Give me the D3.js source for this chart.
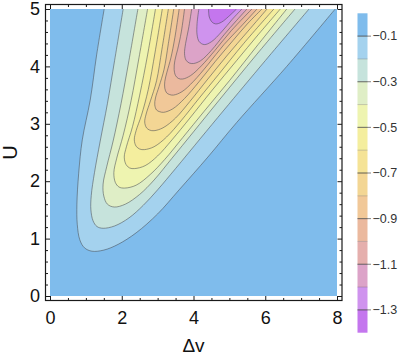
<!DOCTYPE html>
<html>
<head>
<meta charset="utf-8">
<script src="https://cdn.jsdelivr.net/npm/d3@7"></script>
<style>
  body { margin: 0; background: #fff; }
  svg text { font-family: "Liberation Sans", Arial, sans-serif; }
</style>
</head>
<body>
<div id="chart"></div>
<script>
// contour levels and the band colours between them (0 .. -1.4)
const levels = [-0.1, -0.2, -0.3, -0.4, -0.5, -0.6, -0.7, -0.8, -0.9, -1.0, -1.1, -1.2, -1.3];
const legendRange = [0, -1.4];
const bandColors = ["#7fbcec", "#a4d2ee", "#c6e3dc", "#dfeec6", "#eef4b0", "#f4ee9e", "#f5e396",
                    "#f3d694", "#f1c898", "#ebb99e", "#e5afad", "#dca3c8", "#cf93ee", "#c476ee"];
const legendTicks = [-0.1, -0.3, -0.5, -0.7, -0.9, -1.1, -1.3];
const xTicks = [0, 2, 4, 6, 8];
const yTicks = [0, 1, 2, 3, 4, 5];

// contour lines, [Δv, U], left end at U=5 round the bottom to the right end
const contour01 = [[1.51,5.0],[1.3,4.2],[1.12,3.41],[0.9,2.72],[0.8,2.14],[0.75,1.6],[0.76,1.25],[0.83,0.98],[0.96,0.84],[1.17,0.78],[1.5,0.8],[1.9,0.9],[2.4,1.1],[3.0,1.43],[3.6,1.85],[4.4,2.42],[5.2,3.02],[6.6,4.0],[7.95,5.0]];
const contour02 = [[2.04,5.0],[1.8,4.1],[1.6,3.35],[1.4,2.7],[1.24,2.15],[1.15,1.75],[1.14,1.5],[1.2,1.31],[1.31,1.21],[1.48,1.18],[1.8,1.22],[2.2,1.36],[2.6,1.58],[3.0,1.85],[3.5,2.22],[4.2,2.75],[4.85,3.24],[6.0,4.1],[7.22,5.0]];
const contour03 = [[2.45,5.0],[2.2,4.1],[1.98,3.35],[1.76,2.7],[1.58,2.25],[1.48,1.95],[1.5,1.74],[1.6,1.6],[1.79,1.55],[2.1,1.6],[2.5,1.77],[2.9,2.02],[3.4,2.4],[4.0,2.86],[4.7,3.4],[5.75,4.2],[6.83,5.0]];
const contour04 = [[2.72,5.0],[2.48,4.15],[2.26,3.4],[2.04,2.8],[1.86,2.4],[1.78,2.15],[1.82,1.98],[1.92,1.9],[2.08,1.88],[2.4,1.93],[2.8,2.12],[3.2,2.38],[3.7,2.76],[4.3,3.22],[5.0,3.75],[5.8,4.38],[6.6,5.0]];
const contour05 = [[2.94,5.0],[2.72,4.2],[2.5,3.5],[2.3,2.95],[2.13,2.6],[2.07,2.42],[2.12,2.29],[2.22,2.23],[2.36,2.22],[2.65,2.27],[3.0,2.44],[3.4,2.72],[3.9,3.1],[4.5,3.57],[5.2,4.1],[5.8,4.55],[6.42,5.0]];
const contour06 = [[3.13,5.0],[2.93,4.25],[2.74,3.6],[2.55,3.15],[2.4,2.88],[2.35,2.72],[2.4,2.61],[2.5,2.56],[2.63,2.55],[2.9,2.6],[3.25,2.77],[3.65,3.05],[4.15,3.44],[4.7,3.86],[5.4,4.4],[6.24,5.0]];
const contour07 = [[3.3,5.0],[3.12,4.3],[2.97,3.75],[2.8,3.4],[2.68,3.17],[2.64,3.03],[2.69,2.93],[2.78,2.89],[2.9,2.88],[3.15,2.93],[3.5,3.1],[3.9,3.39],[4.4,3.78],[4.95,4.2],[5.5,4.6],[6.05,5.0]];
const contour08 = [[3.45,5.0],[3.3,4.4],[3.18,3.95],[3.04,3.65],[2.94,3.45],[2.92,3.33],[2.97,3.24],[3.06,3.21],[3.17,3.2],[3.42,3.26],[3.75,3.44],[4.15,3.73],[4.6,4.08],[5.1,4.45],[5.5,4.74],[5.91,5.0]];
const contour09 = [[3.6,5.0],[3.48,4.5],[3.37,4.15],[3.26,3.9],[3.2,3.74],[3.2,3.62],[3.25,3.54],[3.33,3.51],[3.44,3.5],[3.68,3.56],[4.0,3.74],[4.4,4.03],[4.85,4.38],[5.3,4.68],[5.77,5.0]];
const contour10 = [[3.75,5.0],[3.66,4.6],[3.56,4.3],[3.48,4.1],[3.46,3.95],[3.5,3.84],[3.58,3.79],[3.7,3.78],[3.92,3.84],[4.22,4.01],[4.6,4.28],[5.05,4.62],[5.63,5.0]];
const contour11 = [[3.95,5.0],[3.86,4.65],[3.78,4.4],[3.75,4.22],[3.79,4.11],[3.88,4.06],[4.0,4.05],[4.2,4.1],[4.5,4.28],[4.85,4.55],[5.2,4.8],[5.49,5.0]];
const contour12 = [[4.15,5.0],[4.1,4.75],[4.1,4.55],[4.16,4.43],[4.3,4.38],[4.5,4.43],[4.78,4.6],[5.08,4.82],[5.35,5.0]];
const contour13 = [[4.42,5.0],[4.44,4.86],[4.52,4.77],[4.62,4.74],[4.78,4.77],[4.98,4.87],[5.2,5.0]];
const contours = [contour01, contour02, contour03, contour04, contour05, contour06, contour07,
                  contour08, contour09, contour10, contour11, contour12, contour13];

const W = 416, H = 357;
const svg = d3.select("#chart").append("svg")
    .attr("width", W)
    .attr("height", H);

const x = d3.scaleLinear().domain([0, 8]).range([50, 337]);
const y = d3.scaleLinear().domain([0, 5]).range([296, 9]);

svg.append("clipPath").attr("id", "plotclip")
  .append("rect")
    .attr("x", x(0)).attr("y", y(5))
    .attr("width", x(8) - x(0)).attr("height", y(0) - y(5));

const plot = svg.append("g").attr("clip-path", "url(#plotclip)");

// lowest band fills the whole area
plot.append("rect")
    .attr("x", x(0)).attr("y", y(5))
    .attr("width", x(8) - x(0)).attr("height", y(0) - y(5))
    .attr("fill", bandColors[0]);

const line = d3.line()
    .x(d => x(d[0]))
    .y(d => y(d[1]))
    .curve(d3.curveCatmullRom.alpha(0.5));

// each contour closes along the top edge, inner ones painted over outer ones
plot.selectAll("path.band")
  .data(contours)
  .join("path")
    .attr("class", "band")
    .attr("d", d => line(d) + "Z")
    .attr("fill", (d, i) => bandColors[i + 1]);

plot.selectAll("path.iso")
  .data(contours)
  .join("path")
    .attr("class", "iso")
    .attr("d", d => line(d))
    .attr("fill", "none")
    .attr("stroke", "rgba(70,75,80,0.6)")
    .attr("stroke-width", 0.9);

// frame
const fx0 = 45.5, fx1 = 342, fy0 = 4.5, fy1 = 300.5;
svg.append("rect")
    .attr("x", fx0).attr("y", fy0)
    .attr("width", fx1 - fx0).attr("height", fy1 - fy0)
    .attr("fill", "none")
    .attr("stroke", "#1a1a1a")
    .attr("stroke-width", 1.2);

const xMinor = d3.range(0, 8.01, 0.5).filter(v => v % 2 !== 0);
const yMinor = d3.range(0, 5.01, 0.2).map(v => +v.toFixed(1)).filter(v => v % 1 !== 0);

function frameAxis(axisFn, scale, tx, ty, major, minor, labels) {
  const gMaj = svg.append("g")
      .attr("transform", `translate(${tx},${ty})`)
      .call(axisFn(scale).tickValues(major).tickSize(-4.5).tickPadding(labels ? 11 : 0)
            .tickFormat(labels ? d3.format("d") : ""));
  const gMin = svg.append("g")
      .attr("transform", `translate(${tx},${ty})`)
      .call(axisFn(scale).tickValues(minor).tickSize(-2.5).tickFormat(""));
  [gMaj, gMin].forEach(g => {
    g.select(".domain").remove();
    g.selectAll("line").attr("stroke", "#1a1a1a").attr("stroke-width", 1);
  });
  gMaj.selectAll("text")
      .attr("fill", "#111")
      .style("font-size", "18px");
  return gMaj;
}

frameAxis(d3.axisBottom, x, 0, fy1, xTicks, xMinor, true);
frameAxis(d3.axisTop, x, 0, fy0, xTicks, xMinor, false);
const gy = frameAxis(d3.axisLeft, y, fx0, 0, yTicks, yMinor, true);
gy.selectAll("text").attr("x", -5.5);
frameAxis(d3.axisRight, y, fx1, 0, yTicks, yMinor, false);

// axis titles
svg.append("text")
    .attr("x", (x(0) + x(8)) / 2)
    .attr("y", 352)
    .attr("text-anchor", "middle")
    .style("font-size", "19px")
    .attr("fill", "#111")
    .text("Δv");

svg.append("text")
    .attr("transform", `translate(17,${(y(0) + y(5)) / 2}) rotate(-90)`)
    .attr("text-anchor", "middle")
    .style("font-size", "20px")
    .attr("fill", "#111")
    .text("U");

// colour bar legend
const ly = d3.scaleLinear().domain(legendRange).range([13.3, 332.7]);
const lx0 = 357.5, lx1 = 367.5;
const bandEdges = [legendRange[0]].concat(levels, [legendRange[1]]);
const legend = svg.append("g");

legend.selectAll("rect")
  .data(d3.pairs(bandEdges))
  .join("rect")
    .attr("x", lx0)
    .attr("y", d => ly(d[0]))
    .attr("width", lx1 - lx0)
    .attr("height", d => ly(d[1]) - ly(d[0]))
    .attr("fill", (d, i) => bandColors[i]);

legend.selectAll("line.edge")
  .data(levels)
  .join("line")
    .attr("class", "edge")
    .attr("x1", lx0).attr("x2", lx1)
    .attr("y1", d => ly(d)).attr("y2", d => ly(d))
    .attr("stroke", "rgba(60,60,60,0.3)")
    .attr("stroke-width", 0.8);

legend.selectAll("line.tick")
  .data(legendTicks)
  .join("line")
    .attr("class", "tick")
    .attr("x1", lx0).attr("x2", lx1 + 3.5)
    .attr("y1", d => ly(d)).attr("y2", d => ly(d))
    .attr("stroke", "rgba(70,70,70,0.75)")
    .attr("stroke-width", 0.9);

legend.selectAll("text")
  .data(legendTicks)
  .join("text")
    .attr("x", lx1 + 5)
    .attr("y", d => ly(d))
    .attr("dy", "0.35em")
    .style("font-size", "12.5px")
    .attr("fill", "#333")
    .text(d => d3.format(".1f")(d).replace("-", "−"));
</script>
</body>
</html>
